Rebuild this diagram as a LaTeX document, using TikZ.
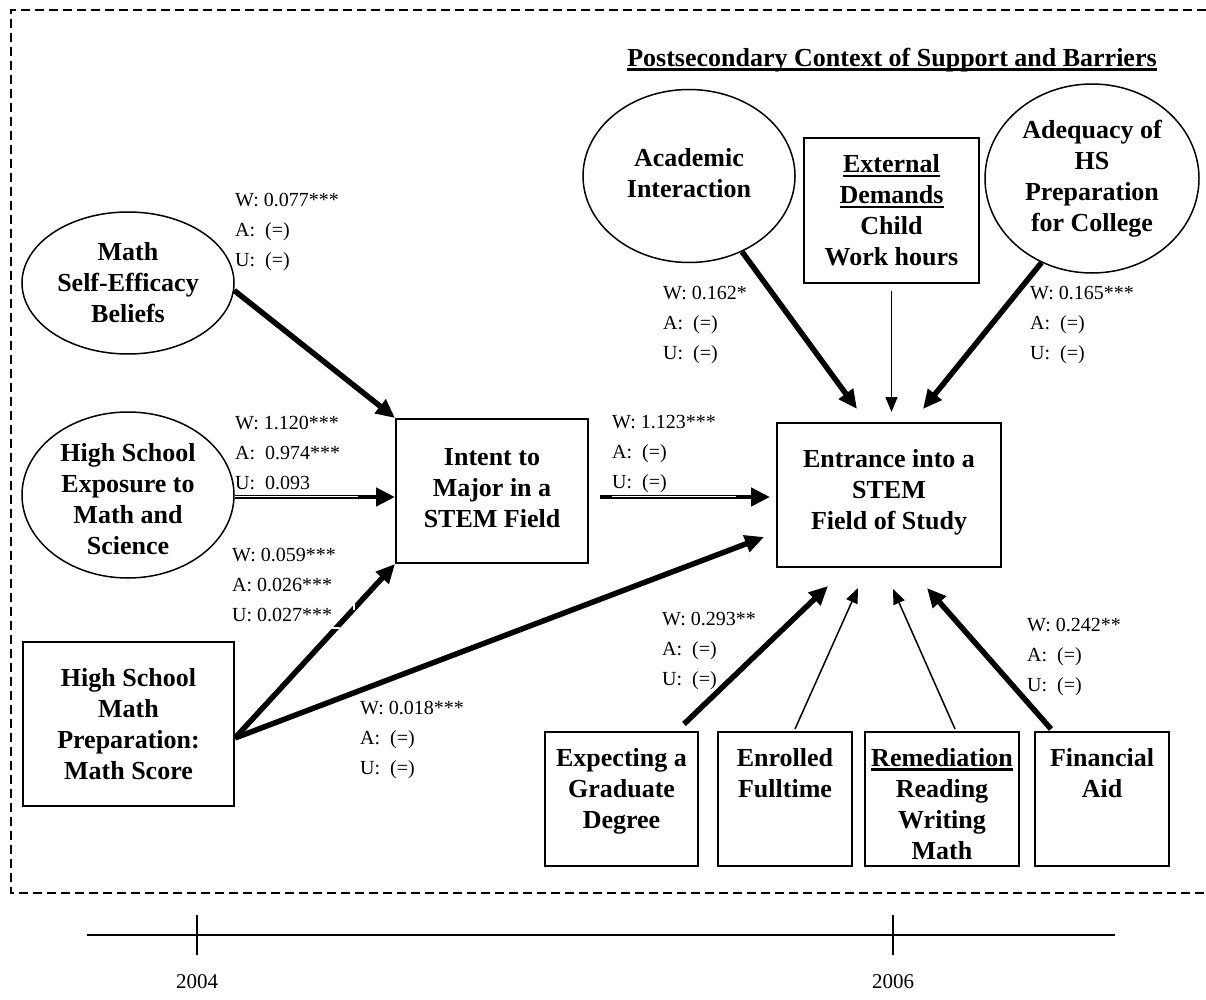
\documentclass[tikz,border=0pt]{standalone}
\usepackage{fontspec}
\setmainfont{Liberation Serif}
\usetikzlibrary{arrows.meta,shapes.geometric}
\newcommand{\ulx}[1]{\leavevmode\setbox0=\hbox{#1}\rlap{\rule[-4.5pt]{\wd0}{2.6pt}}\box0}
\begin{document}
\begin{tikzpicture}[x=1pt,y=-1pt,
  nt/.style={font=\fontsize{26}{31}\selectfont\bfseries, align=center, inner sep=0},
  lab/.style={font=\fontsize{20}{30}\selectfont, align=left, anchor=north west, inner sep=0},
  ell/.style={draw, ellipse, line width=1.5pt, inner sep=0},
  bx/.style={draw, rectangle, line width=2pt, inner sep=0},
  thk/.style={line width=5.5pt, -{Triangle[length=19pt,width=17pt]}},
  thkd/.style={line width=4.5pt, -{Triangle[length=19pt,width=18pt]}},
  thn/.style={line width=1.5pt, -{Triangle[length=15pt,width=12pt]}},
  gap/.style={white, line width=1.2pt},
  frame/.style={line width=2.2pt, dash pattern=on 9pt off 5pt},
  yr/.style={font=\fontsize{21}{25}\selectfont, inner sep=0}]
\useasboundingbox (0,0) rectangle (1206,1000);

% frame
\coordinate (f1) at (1206,10);
\coordinate (f2) at (11,10);
\coordinate (f3) at (11,893);
\coordinate (f4) at (1206,893);
\draw[frame] (f1) -- (f2) -- (f3) -- (f4);

% title
\node[font=\fontsize{26}{31}\selectfont\bfseries, inner sep=0] (title) at (892,60) {\ulx{Postsecondary Context of Support and Barriers}};

% left side
\node[ell, minimum width=212, minimum height=142] (mse) at (128,283) {};
\node[nt] (mset) at (mse) {Math\\Self-Efficacy\\Beliefs};
\node[ell, minimum width=212, minimum height=166] (hse) at (128,495) {};
\node[nt] (hset) at ([yshift=-4pt]hse.center) {High School\\Exposure to\\Math and\\Science};
\node[bx, minimum width=211, minimum height=164] (msc) at (128.5,724) {};
\node[nt] (msct) at (msc) {High School\\Math\\Preparation:\\Math Score};

% middle
\node[bx, minimum width=192, minimum height=144] (intent) at (492,491) {};
\node[nt] (intentt) at ([yshift=3pt]intent.center) {Intent to\\Major in a\\STEM Field};
\node[bx, minimum width=224, minimum height=144] (ent) at (889,495) {};
\node[nt] (entt) at ([yshift=3pt]ent.center) {Entrance into a\\STEM\\Field of Study};

% top
\node[ell, minimum width=212, minimum height=173] (acad) at (689,176) {};
\node[nt] (acadt) at ([yshift=3pt]acad.center) {Academic\\Interaction};
\node[bx, minimum width=175, minimum height=145] (ext) at (891.5,210.5) {};
\node[nt] (extt) at (ext) {\ulx{External}\\\ulx{Demands}\\Child\\Work hours};
\node[ell, minimum width=214, minimum height=189] (adq) at (1092,178.5) {};
\node[nt] (adqt) at (adq) {Adequacy of\\HS\\Preparation\\for College};

% bottom
\node[bx, minimum width=153, minimum height=134] (exp) at (621.5,799) {};
\node[nt, anchor=north] (expt) at ([yshift=-17pt]exp.north) {Expecting a\\Graduate\\Degree};
\node[bx, minimum width=134, minimum height=134] (enr) at (785,799) {};
\node[nt, anchor=north] (enrt) at ([yshift=-17pt]enr.north) {Enrolled\\Fulltime};
\node[bx, minimum width=154, minimum height=134] (rem) at (942,799) {};
\node[nt, anchor=north] (remt) at ([yshift=-17pt]rem.north) {\ulx{Remediation}\\Reading\\Writing\\Math};
\node[bx, minimum width=134, minimum height=134] (fin) at (1102,799) {};
\node[nt, anchor=north] (fint) at ([yshift=-17pt]fin.north) {Financial\\Aid};

% connectors
\draw[thk] (mse.-4) -- (intent.north west);
\draw[thkd] ([yshift=-2pt]hse.east) -- ([yshift=-2pt]hse.east -| intent.west);
\draw[gap] (235,496.5) -- (358,496.5);
\draw[thk] ([yshift=-14pt]msc.east) -- (intent.south west);
\draw[thk] ([yshift=-14pt]msc.east) -- ([xshift=-12pt,yshift=-42pt]ent.west);
\draw[gap] (327,628) -- (340,628);
\draw[gap] (354,597) -- (354,610);
\draw[thkd, shorten <=11pt, shorten >=6pt] ([yshift=-6pt]intent.east) -- ([yshift=-6pt]intent.east -| ent.west);
\draw[gap] (612,496.5) -- (736,496.5);

\draw[thk] (acad.-55) -- ([xshift=-32pt,yshift=13pt]ent.north);
\draw[thn, shorten <=7pt] (ext.south) -- ([xshift=2.5pt,yshift=10pt]ent.north);
\draw[thk] (adq.-121) -- ([xshift=34pt,yshift=13pt]ent.north);

\draw[thk] ([xshift=-15pt,yshift=7pt]exp.north east) -- ([xshift=-61pt,yshift=-18pt]ent.south);
\draw[thn] ([xshift=10pt,yshift=2pt]enr.north) -- ([xshift=-31pt,yshift=-20pt]ent.south);
\draw[thn] ([xshift=13pt,yshift=2pt]rem.north) -- ([xshift=4pt,yshift=-21pt]ent.south);
\draw[thk] ([xshift=17pt,yshift=2pt]fin.north west) -- ([xshift=38pt,yshift=-20pt]ent.south);

% labels
\node[lab] (l1) at (235,193) {W: 0.077***\\A:\ \ (=)\\U:\ \ (=)};
\node[lab] (l2) at (235,416) {W: 1.120***\\A:\ \ 0.974***\\U:\ \ 0.093};
\node[lab] (l3) at (232,548) {W: 0.059***\\A: 0.026***\\U: 0.027***};
\node[lab] (l4) at (360,701) {W: 0.018***\\A:\ \ (=)\\U:\ \ (=)};
\node[lab] (l5) at (612,415) {W: 1.123***\\A:\ \ (=)\\U:\ \ (=)};
\node[lab] (l6) at (663,286) {W: 0.162*\\A:\ \ (=)\\U:\ \ (=)};
\node[lab] (l7) at (1030,286) {W: 0.165***\\A:\ \ (=)\\U:\ \ (=)};
\node[lab] (l8) at (662,612) {W: 0.293**\\A:\ \ (=)\\U:\ \ (=)};
\node[lab] (l9) at (1027,618) {W: 0.242**\\A:\ \ (=)\\U:\ \ (=)};

% timeline
\coordinate (tl0) at (87,935);
\coordinate (tl1) at (1115,935);
\draw[line width=2.5pt] (tl0) -- (tl1);
\coordinate (k1a) at (197,915);
\coordinate (k1b) at (197,955);
\coordinate (k2a) at (893,915);
\coordinate (k2b) at (893,955);
\draw[line width=1.2pt] (k1a) -- (k1b);
\draw[line width=1.2pt] (k2a) -- (k2b);
\node[yr] (y1) at (197,982) {2004};
\node[yr] (y2) at (893,982) {2006};
\end{tikzpicture}
\end{document}
